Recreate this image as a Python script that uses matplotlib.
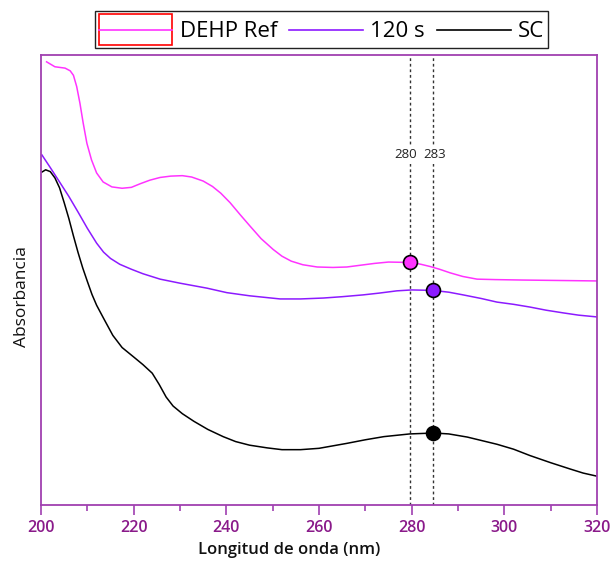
import numpy as np
import matplotlib
matplotlib.use('Agg')
import matplotlib.pyplot as plt
from matplotlib.patches import Rectangle
from matplotlib.lines import Line2D
from matplotlib.legend_handler import HandlerBase

plt.rcParams['font.family'] = ['Open Sans', 'DejaVu Sans']

# DEHP Ref
wl_ref = [201.2, 203.0, 205.2, 206.3, 207.0, 207.7, 208.4, 209.1, 209.9, 210.9, 212.0, 213.4,
          215.3, 217.5, 219.5, 221.4, 223.5, 225.7, 228.0, 230.5, 232.5, 235.0, 237.0, 238.8,
          240.8, 243.0, 245.1, 247.5, 250.1, 252.0, 254.0, 256.5, 259.6, 263.0, 266.0, 269.0,
          272.0, 275.0, 279.9, 282.0, 284.0, 286.0, 288.3, 291.0, 294.1, 298.0, 304.0, 312.0,
          320.0]
abs_ref = [0.985, 0.974, 0.971, 0.965, 0.955, 0.930, 0.893, 0.849, 0.804, 0.767, 0.738, 0.718,
           0.707, 0.704, 0.706, 0.714, 0.722, 0.728, 0.731, 0.732, 0.729, 0.720, 0.708, 0.693,
           0.672, 0.645, 0.620, 0.592, 0.568, 0.553, 0.542, 0.534, 0.529, 0.528, 0.529, 0.533,
           0.537, 0.540, 0.539, 0.535, 0.530, 0.524, 0.516, 0.508, 0.502, 0.501, 0.500, 0.499,
           0.498]

# 120 s
wl_120 = [200.2, 202.0, 204.0, 206.0, 208.0, 210.0, 212.0, 213.5, 215.0, 217.0, 219.5, 222.0,
          225.7, 230.0, 235.8, 240.1, 245.0, 251.6, 256.0, 260.9, 265.0, 269.5, 273.0, 276.8,
          280.0, 284.6, 288.0, 291.1, 295.0, 298.4, 302.0, 305.5, 309.0, 312.7, 316.0, 320.0]
abs_120 = [0.778, 0.750, 0.718, 0.686, 0.651, 0.615, 0.582, 0.562, 0.548, 0.535, 0.524, 0.514,
           0.502, 0.493, 0.482, 0.472, 0.465, 0.458, 0.458, 0.460, 0.463, 0.467, 0.471, 0.476,
           0.478, 0.477, 0.473, 0.467, 0.459, 0.451, 0.446, 0.440, 0.433, 0.427, 0.422, 0.418]

# SC
wl_sc = [200.2, 201.0, 202.0, 203.0, 204.0, 205.0, 206.0, 207.0, 208.0, 209.0, 210.0, 211.0,
         212.0, 213.5, 215.5, 217.5, 220.0, 222.0, 224.0, 225.5, 227.0, 228.5, 230.5, 233.0,
         236.0, 239.3, 242.0, 245.0, 248.8, 252.0, 256.0, 260.0, 266.0, 270.0, 274.0, 279.6,
         284.8, 288.0, 292.0, 298.4, 302.0, 305.5, 310.0, 314.2, 317.0, 320.0]
abs_sc = [0.740, 0.745, 0.741, 0.727, 0.705, 0.672, 0.637, 0.598, 0.561, 0.527, 0.497, 0.468,
          0.444, 0.415, 0.377, 0.350, 0.329, 0.312, 0.293, 0.268, 0.240, 0.220, 0.203, 0.186,
          0.168, 0.152, 0.141, 0.133, 0.127, 0.123, 0.123, 0.126, 0.137, 0.145, 0.152, 0.158,
          0.160, 0.158, 0.151, 0.135, 0.124, 0.110, 0.094, 0.080, 0.071, 0.064]

peak_lines = [279.7, 284.6]
peak_labels = ['280', '283']
marker_x = [279.7, 284.6, 284.6]

purple = '#a040b0'
tickcol = '#8a1a8a'
c_ref = '#ff33ff'
c_120 = '#8c1aff'
c_sc = 'black'


class MidLineHandler(HandlerBase):
    # line through the middle of the handle box, optional red frame round it
    def __init__(self, box=False):
        super().__init__()
        self.box = box

    def create_artists(self, legend, orig_handle, xdescent, ydescent, width, height,
                       fontsize, trans):
        arts = []
        if self.box:
            arts.append(Rectangle((-xdescent, -ydescent), width, height, facecolor='none',
                                  edgecolor='red', lw=1.2, transform=trans))
        ym = -ydescent + height / 2
        arts.append(Line2D([-xdescent, -xdescent + width], [ym, ym],
                           color=orig_handle.get_color(), lw=1.2, transform=trans))
        return arts


fig = plt.figure(figsize=(6.13, 5.62), dpi=100)
ax = fig.add_axes([0.0669, 0.1014, 0.9071, 0.8006])

ax.plot(wl_ref, abs_ref, color=c_ref, lw=1.1)
ax.plot(wl_120, abs_120, color=c_120, lw=1.1)
ax.plot(wl_sc, abs_sc, color=c_sc, lw=1.1)

for xv in peak_lines:
    ax.axvline(xv, color='#333333', lw=1, ls=(0, (2, 2)), zorder=1)

ax.text(278.7, 0.778, peak_labels[0], ha='center', va='center', fontsize=9.5, color='#222222',
        bbox=dict(facecolor='white', edgecolor='none', pad=1.5), zorder=2)
ax.text(284.9, 0.778, peak_labels[1], ha='center', va='center', fontsize=9.5, color='#222222',
        bbox=dict(facecolor='white', edgecolor='none', pad=1.5), zorder=2)

for xs, ys, c, mx in [(wl_ref, abs_ref, c_ref, marker_x[0]),
                      (wl_120, abs_120, c_120, marker_x[1]),
                      (wl_sc, abs_sc, c_sc, marker_x[2])]:
    ax.plot([mx], [np.interp(mx, xs, ys)], 'o', ms=10, mfc=c, mec='black', mew=1.2, zorder=5)

ax.set_xlim(200, 320)
ax.set_ylim(0, 1)
ax.set_xticks(np.arange(200, 321, 20))
ax.set_xticks(np.arange(200, 321, 10), minor=True)
ax.set_yticks([])
ax.tick_params(axis='x', which='major', length=7, width=1.2, color=purple, labelcolor=tickcol,
               labelsize=11.5, pad=4)
ax.tick_params(axis='x', which='minor', length=4, width=1.2, color=purple)
for lab in ax.get_xticklabels():
    lab.set_fontweight('semibold')
for s in ax.spines.values():
    s.set_color(purple)
    s.set_linewidth(1.3)

ax.set_xlabel('Longitud de onda (nm)', fontsize=12, fontweight='semibold', color='#111111')
ax.xaxis.set_label_coords(0.446, -0.082)
ax.set_ylabel('Absorbancia', fontsize=12.5, color='#111111')
ax.yaxis.set_label_coords(-0.02, 0.464)

h_ref = Line2D([], [], color=c_ref, lw=1.2)
h_120 = Line2D([], [], color=c_120, lw=1.2)
h_sc = Line2D([], [], color=c_sc, lw=1.2)
fig.legend([h_ref, h_120, h_sc], ['DEHP Ref', '120 s', 'SC'], ncol=3,
           loc='center', bbox_to_anchor=(0.5245, 0.9475), fontsize=16,
           frameon=True, fancybox=False, edgecolor='#222222', framealpha=1,
           handlelength=3.3, handleheight=1.75, handletextpad=0.35, columnspacing=0.55,
           borderpad=0.15, borderaxespad=0,
           handler_map={h_ref: MidLineHandler(box=True), h_120: MidLineHandler(),
                        h_sc: MidLineHandler()})

fig.savefig('out.png', dpi=100)
